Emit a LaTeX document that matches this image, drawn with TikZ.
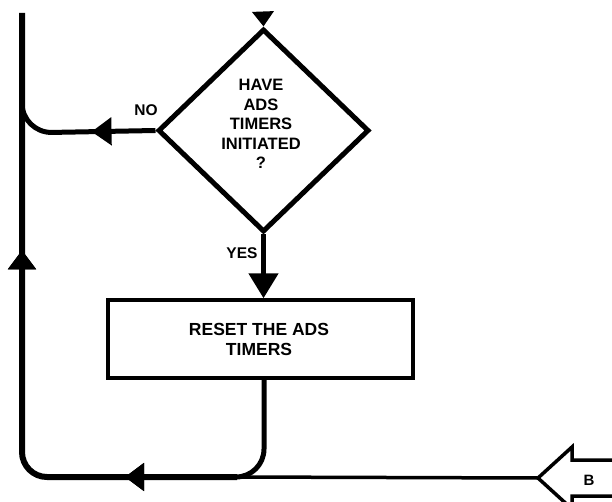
\documentclass[tikz,border=0pt]{standalone}
\usepackage{fontspec}
\setmainfont{Liberation Sans}
\usetikzlibrary{shapes.geometric,arrows.meta,decorations.markings}
\begin{document}
\begin{tikzpicture}[x=1pt,y=-1pt,
  decision/.style={diamond,draw,line width=5pt,minimum width=211pt,minimum height=203pt,inner sep=0pt},
  process/.style={rectangle,draw,line width=3.5pt,minimum width=305pt,minimum height=78pt,inner sep=0pt},
  lbl/.style={font=\bfseries\fontsize{16.5}{19.5}\selectfont,align=center,inner sep=0pt},
  boxlbl/.style={font=\bfseries\fontsize{17.5}{20}\selectfont,align=center,inner sep=0pt},
  smalllbl/.style={font=\bfseries\fontsize{15.5}{17}\selectfont,inner sep=0pt},
  tinylbl/.style={font=\bfseries\fontsize{15}{16}\selectfont,inner sep=0pt},
  flow/.style={line width=5pt},
  mainflow/.style={line width=6pt},
  thinflow/.style={line width=3.5pt},
  arrowat/.style 2 args={postaction={decorate},decoration={markings,
     mark=at position #1 with {\arrow{Triangle[length=#2,width=27pt]}}}},
]
\useasboundingbox (0,0) rectangle (612,502);

% nodes
\node[decision] (dia) at (263.5,130.5) {};
\node[lbl] (diatext) at (261,124) {HAVE\\ADS\\TIMERS\\INITIATED\\?};
\node[process] (box) at (260.5,339) {};
\node[boxlbl] (boxtext) at (259,339) {RESET THE ADS\\TIMERS};
\node[smalllbl] (no) at (146,110) {NO};
\node[smalllbl] (yes) at (242,253) {YES};
\node[tinylbl] (B) at (589,480) {B};

% coordinates
\coordinate (topin) at (263,13);
\coordinate (K) at (22,100);
\coordinate (J) at (237,477);
\coordinate (T) at (22,13);
\coordinate (Btip) at (538,478);

% off-page connector B
\draw[thinflow] (Btip) -- (572,447) -- (572,460) -- (620,460);
\draw[thinflow] (Btip) -- (572,509) -- (572,496) -- (620,496);

% connectors
\draw[flow,-{Triangle[length=15pt,width=21pt]}] (topin) -- (dia.north);
\draw[flow,rounded corners=30pt,arrowat={64pt}{20pt}] (dia.west) -- (22,133) -- (K);
\draw[flow,-{Triangle[length=25pt,width=29pt]}] (dia.south) -- (dia.south |- box.north);
\draw[flow,rounded corners=28pt] ([xshift=3.5pt]box.south) |- (J);
\draw[thinflow] (Btip) -- (J);
\draw[mainflow,rounded corners=25pt,arrowat={112pt}{19pt},arrowat={431pt}{19pt}] (J) -- (22,477) -- (T);
\end{tikzpicture}
\end{document}
